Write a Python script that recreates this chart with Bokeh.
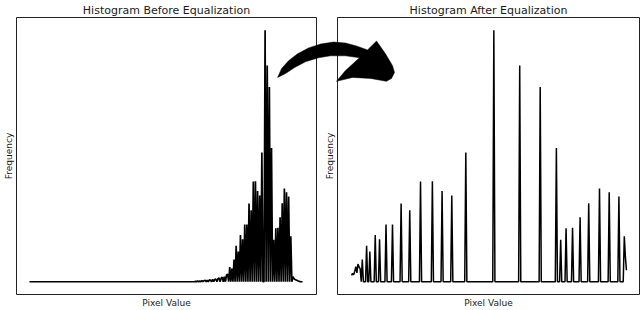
from bokeh.plotting import figure
from bokeh.layouts import row
from bokeh.models import Range1d, FixedTicker
from bokeh.embed import file_html
from bokeh.resources import INLINE

# ---------------- data ----------------
pixel_values = list(range(256))

before_bins = [155, 157, 159, 161, 163, 164, 166, 168, 169, 171, 173, 174, 176, 177,
               179, 180, 182, 184, 185, 187, 189, 191, 193, 195, 197, 199, 201, 203,
               205, 207, 209, 211, 213, 215, 217, 220, 222, 224, 226, 228, 230, 232,
               234, 236, 238, 240, 242, 244, 246, 247, 248, 249, 250, 251, 252]
before_counts = [15, 30, 25, 45, 40, 55, 60, 70, 65, 90, 85, 110, 120, 150,
                 140, 180, 200, 260, 300, 586, 520, 885, 1432, 1198, 1862, 1693, 2279, 2279,
                 3112, 2839, 3984, 3997, 3607, 3424, 5143, 10000, 8594, 7747, 5313, 1667, 2122, 2148,
                 2565, 3125, 3711, 3555, 3385, 1810, 200, 120, 90, 70, 50, 30, 15]

after_bins = [0, 1, 2, 3, 4, 5, 6, 7, 8, 10, 14, 17, 22, 26, 32, 38, 46, 54, 64, 75,
              84, 93, 106, 132, 156, 175, 190, 194, 199, 205, 212, 220, 230, 239, 248,
              253, 254, 255]
after_counts = [250, 330, 280, 420, 600, 350, 700, 586, 520, 885, 1432, 1198, 1862, 1693,
                2279, 2279, 3112, 2839, 3984, 3997, 3607, 3424, 5143, 10000, 8594, 7747,
                5313, 1667, 2122, 2148, 2565, 3125, 3711, 3555, 3385, 1810, 1000, 456]

titles = ["Histogram Before Equalization", "Histogram After Equalization"]
x_label = "Pixel Value"
y_label = "Frequency"


def dense(bins, counts):
    table = dict(zip(bins, counts))
    return [table.get(v, 0) for v in pixel_values]


hist_before = dense(before_bins, before_counts)
hist_after = dense(after_bins, after_counts)

# ---------------- layout ----------------
H = 310
TOP, BOTTOM = 16, 12
FONT = "DejaVu Sans"
TXT = "#1a1a1a"

# curved arrow decoration, drawn in page-pixel space
ARROW_X = [277, 281, 288, 297, 308, 320, 333, 345, 356, 367, 376, 385, 392, 394, 391, 386,
           370, 352, 336, 345, 359, 345, 330, 318, 305, 294, 285]
ARROW_Y = [77, 68, 60, 53, 47, 43, 41, 42, 45, 49, 40, 53, 65, 72, 78, 81,
           78, 77, 81, 70, 57, 55, 55, 57, 61, 67, 73]


def make_fig(title, y, xr, width, bl, br, page_x0, lw):
    p = figure(width=width, height=H, output_backend="svg", toolbar_location=None,
               x_range=Range1d(*xr), y_range=Range1d(-0.0508 * max(y), 1.0508 * max(y)),
               min_border_left=bl, min_border_right=br,
               min_border_top=TOP, min_border_bottom=BOTTOM,
               background_fill_color="white", border_fill_color="white")
    p.title.text = title
    p.title.align = "center"
    p.title.text_font = FONT
    p.title.text_font_size = "11px"
    p.title.text_font_style = "normal"
    p.title.text_color = TXT
    p.title.standoff = 2
    p.outline_line_color = "#222222"
    p.outline_line_width = 1
    p.outline_line_alpha = 1
    p.grid.visible = False
    for ax in (p.xaxis, p.yaxis):
        ax.ticker = FixedTicker(ticks=[])
        ax.axis_line_color = None
        ax.major_tick_line_color = None
        ax.minor_tick_line_color = None
        ax.major_tick_out = 0
        ax.major_label_standoff = 0
        ax.axis_label_text_font = FONT
        ax.axis_label_text_font_size = "9px"
        ax.axis_label_text_font_style = "normal"
        ax.axis_label_text_color = TXT
        ax.axis_label_standoff = 3
    p.xaxis.axis_label = x_label
    p.yaxis.axis_label = y_label
    p.line(pixel_values, y, line_color="black", line_width=lw)

    # pixel-space ranges for the decoration arrow
    p.extra_x_ranges = {"px": Range1d(page_x0 + bl, page_x0 + width - br)}
    p.extra_y_ranges = {"py": Range1d(H - BOTTOM, TOP)}
    arrow = p.patch(ARROW_X, ARROW_Y, x_range_name="px", y_range_name="py",
                    fill_color="black", line_color="black", line_width=0.5)
    arrow.level = "overlay"
    return p


p1 = make_fig(titles[0], hist_before, (-12.1, 268.0), 320, 15, 4, 0, 1.7)
p2 = make_fig(titles[1], hist_after, (-13.0, 267.1), 320, 17, 1, 320, 1.5)

layout = row(p1, p2)
open("out.html", "w").write(file_html(layout, INLINE))
